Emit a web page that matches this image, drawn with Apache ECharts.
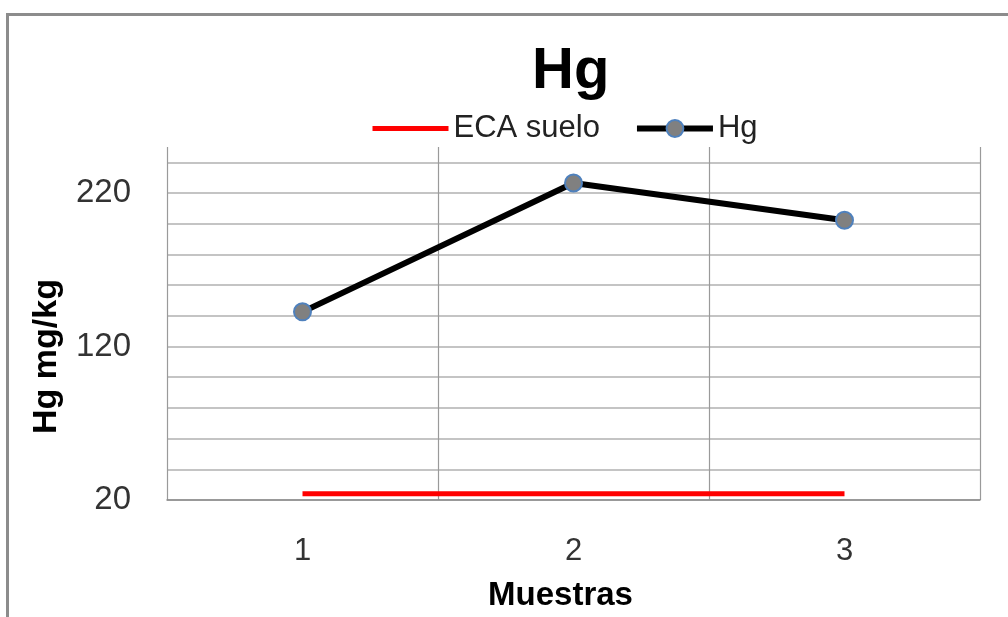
<!DOCTYPE html>
<html><head><meta charset="utf-8">
<script src="https://cdn.jsdelivr.net/npm/echarts@6/dist/echarts.min.js"></script>
<style>
html,body{margin:0;padding:0;background:#fff;}
#c{position:absolute;left:0;top:0;width:1008px;height:617px;}
#frame{position:absolute;left:6px;top:13px;width:1010px;height:620px;border-top:3px solid #8c8c8c;border-left:3px solid #8c8c8c;pointer-events:none;}
</style></head>
<body>
<div id="c"></div>
<div id="frame"></div>
<script>
const categories = ['1', '2', '3'];
const ecaSuelo = [24, 24, 24];
const hgValues = [142.6, 226.5, 202.3];
const yLabels = [20, 120, 220];

const chart = echarts.init(document.getElementById('c'));
const font = 'Liberation Sans';
chart.setOption({
  animation: false,
  backgroundColor: '#fff',
  title: {
    text: 'Hg', left: 527, top: 38,
    textStyle: {fontFamily: font, fontWeight: 'bold', fontSize: 58, color: '#000'}
  },
  legend: {
    left: 365, top: 108, itemWidth: 76, itemHeight: 21, itemGap: 34,
    lineStyle: {width: 'inherit'},
    textStyle: {fontFamily: font, fontSize: 31, color: '#222'},
    data: [{name: 'ECA suelo', itemStyle: {opacity: 0}}, 'Hg']
  },
  grid: {left: 167, right: 28, top: 147, bottom: 115, containLabel: false},
  xAxis: {
    type: 'category', data: categories, boundaryGap: true,
    name: 'Muestras', nameLocation: 'middle', nameGap: 79,
    nameTextStyle: {fontFamily: font, fontWeight: 'bold', fontSize: 33, color: '#000', padding: [0, 26, 0, 0]},
    axisLine: {lineStyle: {color: '#8a8a8a', width: 1.5}},
    axisTick: {show: false},
    axisLabel: {fontFamily: font, fontSize: 31, color: '#333', margin: 36},
    splitLine: {show: true, lineStyle: {color: '#9a9a9a', width: 1.2}}
  },
  yAxis: {
    type: 'value', min: 20, max: 250, interval: 20,
    name: 'Hg mg/kg', nameLocation: 'middle', nameGap: 103,
    nameTextStyle: {fontFamily: font, fontWeight: 'bold', fontSize: 34, color: '#000', padding: [0, 66, 0, 0]},
    axisLine: {show: false}, axisTick: {show: false},
    axisLabel: {
      fontFamily: font, fontSize: 33, color: '#333', margin: 36,
      formatter: v => yLabels.indexOf(v) >= 0 ? String(v) : ''
    },
    splitLine: {show: true, showMaxLine: false, lineStyle: {color: '#c4c4c4', width: 2}}
  },
  series: [
    {
      name: 'ECA suelo', type: 'line', data: ecaSuelo, symbol: 'none',
      itemStyle: {color: '#ff0000'},
      lineStyle: {color: '#ff0000', width: 5}
    },
    {
      name: 'Hg', type: 'line', data: hgValues, symbol: 'circle', symbolSize: 17,
      itemStyle: {color: '#808080', borderColor: '#4f81bd', borderWidth: 2},
      lineStyle: {color: '#000', width: 6}
    }
  ]
});
</script>
</body></html>
